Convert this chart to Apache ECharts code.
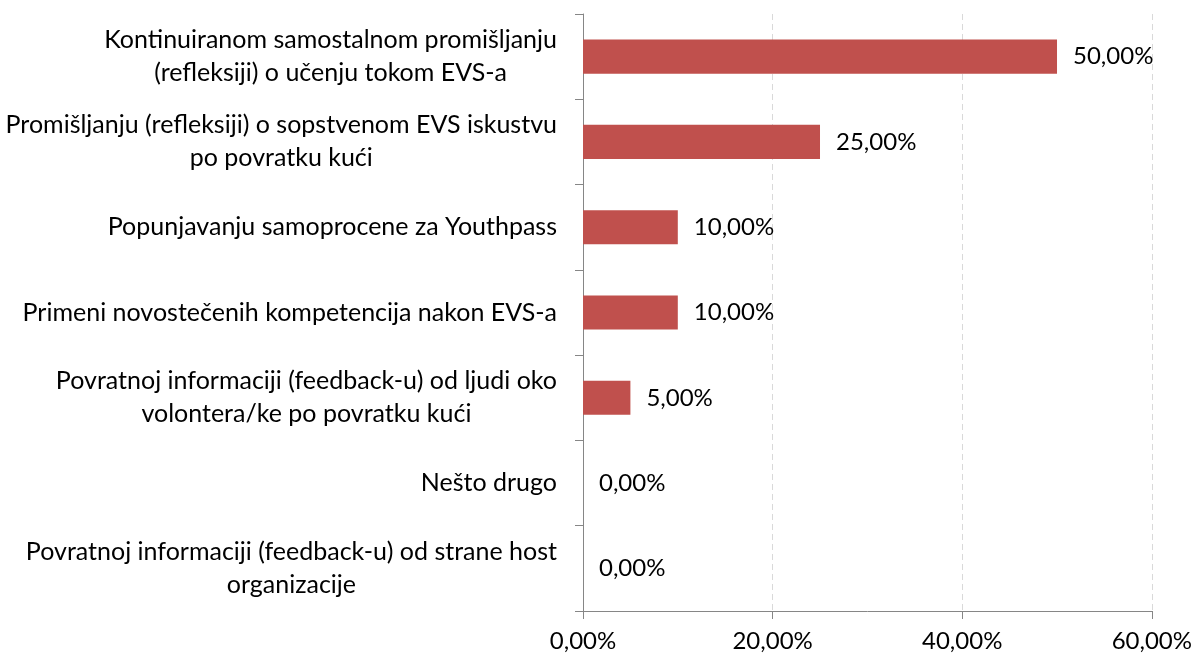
<!DOCTYPE html>
<html>
<head>
<meta charset="utf-8">
<script src="https://cdn.jsdelivr.net/npm/echarts@6/dist/echarts.min.js"></script>
<style>
  html, body { margin: 0; padding: 0; background: #fff; }
  #main { width: 1195px; height: 656px; }
</style>
</head>
<body>
<div id="main"></div>
<script>
const categories = [
  'Kontinuiranom samostalnom promišljanju\n(refleksiji) o učenju tokom EVS-a',
  'Promišljanju (refleksiji) o sopstvenom EVS iskustvu\npo povratku kući',
  'Popunjavanju samoprocene za Youthpass',
  'Primeni novostečenih kompetencija nakon EVS-a',
  'Povratnoj informaciji (feedback-u) od ljudi oko\nvolontera/ke po povratku kući',
  'Nešto drugo',
  'Povratnoj informaciji (feedback-u) od strane host\norganizacije'
];
const values = [50, 25, 10, 10, 5, 0, 0];
const xTicks = [0, 20, 40, 60];

const fmtPct = v => v.toFixed(2).replace('.', ',') + '%';
const font = 'Lato';
const fs = 24;
const catFs = 25;

const chart = echarts.init(document.getElementById('main'));
chart.setOption({
  animation: false,
  textStyle: { fontFamily: font },
  grid: { left: 583, right: 42, top: 14, bottom: 45, containLabel: false },
  xAxis: {
    type: 'value',
    min: xTicks[0],
    max: xTicks[xTicks.length - 1],
    interval: 20,
    axisLine: { show: true, lineStyle: { color: '#868686', width: 1 } },
    axisTick: { show: true, length: 8, lineStyle: { color: '#868686' } },
    axisLabel: { formatter: fmtPct, fontSize: fs, color: '#000', margin: 18, fontFamily: font },
    splitLine: { show: true, lineStyle: { color: '#d9d9d9', type: [6, 4] } }
  },
  yAxis: {
    type: 'category',
    data: categories,
    inverse: true,
    axisLine: { show: true, lineStyle: { color: '#868686', width: 1 } },
    axisTick: { show: true, length: 8, lineStyle: { color: '#868686' } },
    axisLabel: {
      margin: 26,
      color: '#000',
      fontSize: catFs,
      fontFamily: font,
      formatter: v => v.split('\n').map(s => '{c|' + s + '}').join('\n'),
      rich: { c: { align: 'center', fontSize: catFs, lineHeight: 33, fontFamily: font, color: '#000' } }
    },
    splitLine: { show: false }
  },
  series: [{
    type: 'bar',
    data: values,
    barCategoryGap: '60%',
    itemStyle: { color: '#c0504d' },
    label: {
      show: true,
      position: 'right',
      distance: 16,
      color: '#000',
      fontSize: fs,
      fontFamily: font,
      formatter: p => fmtPct(p.value)
    }
  }]
});
</script>
</body>
</html>
